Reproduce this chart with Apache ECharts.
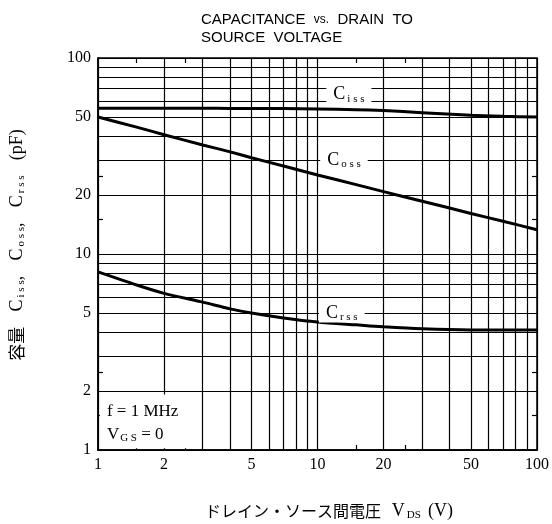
<!DOCTYPE html>
<html>
<head>
<meta charset="utf-8">
<script src="https://cdn.jsdelivr.net/npm/echarts@6/dist/echarts.min.js"></script>
<style>
  html, body { margin: 0; padding: 0; background: #fff; }
  #main { width: 552px; height: 524px; }
</style>
</head>
<body>
<div id="main"></div>
<script>
// V_DS (V)
const voltage = [1, 1.5, 2, 3, 4, 5, 7, 10, 15, 20, 30, 50, 70, 100];
// capacitance (pF)
const ciss = [55.4, 55.4, 55.4, 55.4, 55.3, 55.3, 55.2, 55, 54.5, 53.9, 52.6, 51, 50.4, 50];
const coss = [50, 44.4, 40.6, 36, 33.2, 31, 28.1, 25.3, 22.6, 20.8, 18.6, 16.1, 14.7, 13.3];
const crss = [8.1, 6.95, 6.3, 5.68, 5.25, 5.0, 4.72, 4.5, 4.35, 4.25, 4.15, 4.1, 4.1, 4.1];
const gridValues = [1, 2, 3, 4, 5, 6, 7, 8, 9, 10, 20, 30, 40, 50, 60, 70, 80, 90, 100];
const tickLabels = [1, 2, 5, 10, 20, 50, 100];
const minorTicks = [1.5, 2.5, 15, 25];

const serif = '"Liberation Serif", "DejaVu Serif", serif';
const cjk = '"Noto Sans CJK JP", "Noto Sans CJK SC", sans-serif';
const rich = {
  c: { fontFamily: serif, fontSize: 18, color: '#000' },
  s: { fontFamily: serif, fontSize: 11, color: '#000', padding: [8, 0, 0, 2] }
};
const pairs = ys => voltage.map((v, i) => [v, ys[i]]);

const curveLabel = (sub, coord) => ({
  symbol: 'rect',
  symbolSize: 0,
  silent: true,
  data: [{ coord: coord }],
  label: {
    show: true,
    position: 'inside',
    color: '#000',
    backgroundColor: '#fff',
    padding: [0, 7, 0, 7],
    formatter: '{c|C}{s|' + sub + '}',
    rich: rich
  }
});

const line = (name, ys, labelSub, labelCoord) => ({
  name: name,
  type: 'line',
  data: pairs(ys),
  smooth: 0.25,
  symbol: 'none',
  lineStyle: { color: '#000', width: 3 },
  markPoint: curveLabel(labelSub, labelCoord),
  z: 3
});

const axisCommon = {
  type: 'log',
  logBase: 10,
  min: 1,
  max: 100,
  axisLine: { show: true, lineStyle: { color: '#000', width: 1.5 } },
  axisTick: { show: false, customValues: gridValues },
  axisLabel: { customValues: tickLabels, fontFamily: serif, fontSize: 16, color: '#000' },
  splitLine: { show: true, lineStyle: { color: '#000', width: 1.2 } }
};

// short inward ticks on all four borders
const minorAxis = position => ({
  type: 'log',
  logBase: 10,
  min: 1,
  max: 100,
  position: position,
  axisLine: { show: false },
  axisLabel: { show: false },
  splitLine: { show: false },
  axisTick: { show: true, inside: true, length: 5, customValues: minorTicks, lineStyle: { color: '#000', width: 1.2 } }
});

const chart = echarts.init(document.getElementById('main'));
chart.setOption({
  animation: false,
  backgroundColor: '#fff',
  title: {
    left: 196,
    top: 6,
    text: 'CAPACITANCE  {v|vs.}  DRAIN  TO\nSOURCE  VOLTAGE',
    textStyle: {
      fontFamily: '"Liberation Sans", Arial, sans-serif',
      fontWeight: 'normal',
      fontSize: 15,
      lineHeight: 18,
      color: '#000',
      rich: { v: { fontFamily: '"Liberation Sans", Arial, sans-serif', fontSize: 12, color: '#000' } }
    }
  },
  grid: {
    left: 98, right: 13, top: 58, bottom: 74,
    show: true, borderColor: '#000', borderWidth: 1.5
  },
  xAxis: [
    Object.assign({}, axisCommon, {
      position: 'bottom',
      axisLabel: Object.assign({}, axisCommon.axisLabel, { margin: 7 })
    }),
    minorAxis('bottom'),
    minorAxis('top')
  ],
  yAxis: [
    Object.assign({}, axisCommon, {
      position: 'left',
      axisLabel: Object.assign({}, axisCommon.axisLabel, { margin: 7 })
    }),
    minorAxis('left'),
    minorAxis('right')
  ],
  graphic: [
    {
      type: 'text',
      x: 17,
      y: 245,
      rotation: Math.PI / 2,
      style: {
        text: '容量    {c|C}{s|i s s}{c|,}    {c|C}{s|o s s}{c|,}    {c|C}{s|r s s}    {c|(pF)}',
        fontFamily: cjk,
        fontSize: 17,
        fill: '#000',
        align: 'center',
        verticalAlign: 'middle',
        rich: rich
      }
    },
    {
      type: 'text',
      x: 329,
      y: 511,
      style: {
        text: 'ドレイン・ソース間電圧   {c|V}{s|DS}  {c|(V)}',
        fontFamily: cjk,
        fontSize: 16,
        fill: '#000',
        align: 'center',
        verticalAlign: 'middle',
        rich: rich
      }
    }
  ],
  series: [
    line('Ciss', ciss, 'i s s', [13.9, 65]),
    line('Coss', coss, 'o s s', [13.2, 30]),
    line('Crss', crss, 'r s s', [12.9, 5]),
    {
      name: 'conditions',
      type: 'line',
      data: [],
      markArea: {
        silent: true,
        itemStyle: { color: '#fff', opacity: 1 },
        label: {
          show: true,
          position: [7, 6],
          fontFamily: serif,
          fontSize: 17,
          lineHeight: 23,
          color: '#000',
          formatter: 'f = 1 MHz\n{c|V}{s|G S} = 0',
          rich: {
            c: { fontFamily: serif, fontSize: 17, color: '#000' },
            s: { fontFamily: serif, fontSize: 11, color: '#000', padding: [7, 0, 0, 1] }
          }
        },
        data: [[{ xAxis: 1.02, yAxis: 1.02 }, { xAxis: 2.75, yAxis: 1.92 }]]
      },
      z: 2
    }
  ]
});
</script>
</body>
</html>
